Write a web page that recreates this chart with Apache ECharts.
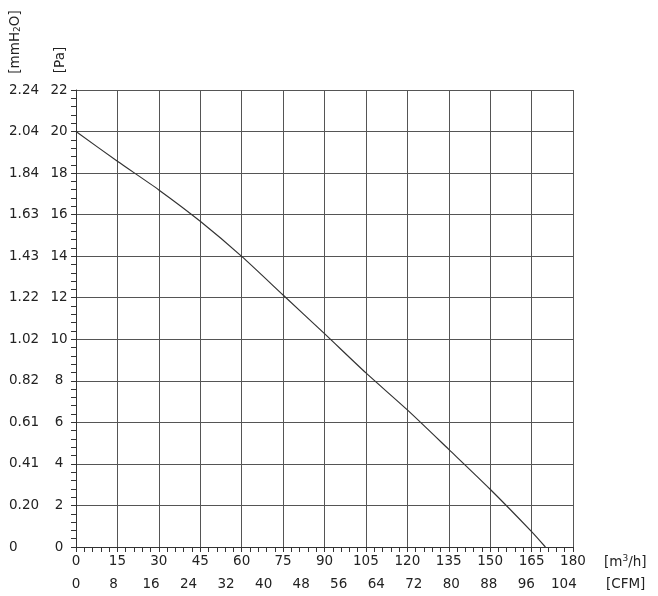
<!DOCTYPE html>
<html><head><meta charset="utf-8">
<script src="https://cdn.jsdelivr.net/npm/echarts@6/dist/echarts.min.js"></script>
<style>html,body{margin:0;padding:0;background:#fff}#c{width:658px;height:596px}</style>
</head><body><div id="c"></div>
<script>
var flowM3h = [0, 15, 30, 45, 60, 75, 90, 105, 120, 135, 150, 165, 170];
var pressurePa = [20, 18.57, 17.19, 15.68, 13.99, 12.13, 10.27, 8.38, 6.6, 4.7, 2.78, 0.74, 0];
var xTicksM3h = ['0','15','30','45','60','75','90','105','120','135','150','165','180'];
var xTicksCFM = ['0','8','16','24','32','40','48','56','64','72','80','88','96','104'];
var yTicksPa = ['0','2','4','6','8','10','12','14','16','18','20','22'];
var yTicksMmH2O = ['0','0.20','0.41','0.61','0.82','1.02','1.22','1.43','1.63','1.84','2.04','2.24'];
var M3H_PER_CFM = 1.69901;
var X_MAX = 180;

var FONT = 'DejaVu Sans';
var TXT = '#222';
var chart = echarts.init(document.getElementById('c'), null, {renderer:'canvas'});
var lbl = {fontFamily: FONT, fontSize: 13.5, color: TXT};
function idx(v, step){ return Math.round(v/step); }
chart.setOption({
  animation: false,
  grid: {left: 76, right: 85, top: 90, bottom: 49, containLabel: false},
  xAxis: [{
    type: 'value', min: 0, max: X_MAX, interval: 15, position: 'bottom',
    axisLine: {show: true, lineStyle: {color: '#333', width: 1}},
    axisTick: {show: true, length: 5, lineStyle: {color: '#333'}},
    minorTick: {show: true, splitNumber: 5, length: 5, lineStyle: {color: '#333'}},
    splitLine: {show: true, lineStyle: {color: '#555', width: 1}},
    axisLabel: Object.assign({margin: 7, formatter: function(v){ return xTicksM3h[idx(v,15)]; }}, lbl)
  },{
    type: 'value', min: 0, max: X_MAX / M3H_PER_CFM, interval: 8, position: 'bottom', offset: 23,
    axisLine: {show: false}, axisTick: {show: false}, splitLine: {show: false},
    axisLabel: Object.assign({margin: 7, showMaxLabel: false, formatter: function(v){
      if (Math.abs(v/8 - Math.round(v/8)) > 1e-6) return '';
      return xTicksCFM[idx(v,8)] || ''; }}, lbl)
  }],
  yAxis: [{
    type: 'value', min: 0, max: 22, interval: 2, position: 'left',
    axisLine: {show: true, lineStyle: {color: '#333', width: 1}},
    axisTick: {show: true, length: 5, lineStyle: {color: '#333'}},
    minorTick: {show: true, splitNumber: 5, length: 5, lineStyle: {color: '#333'}},
    splitLine: {show: true, lineStyle: {color: '#555', width: 1}},
    axisLabel: Object.assign({margin: 17, align: 'center', formatter: function(v){ return yTicksPa[idx(v,2)]; }}, lbl)
  },{
    type: 'value', min: 0, max: 22, interval: 2, position: 'left',
    axisLine: {show: false}, axisTick: {show: false}, splitLine: {show: false},
    axisLabel: Object.assign({margin: 67, align: 'left', formatter: function(v){ return yTicksMmH2O[idx(v,2)]; }}, lbl)
  }],
  graphic: [
    {type: 'text', x: 15, y: 42, rotation: Math.PI/2, style: {text: '[mmH{sub|2}O]', fill: TXT, font: '13.5px "DejaVu Sans"', align: 'center', verticalAlign: 'middle',
      rich: {sub: {fontSize: 9, fontFamily: FONT, fill: TXT, verticalAlign: 'bottom', padding: [6,0,0,0]}}}},
    {type: 'text', x: 60, y: 60, rotation: Math.PI/2, style: {text: '[Pa]', fill: TXT, font: '13.5px "DejaVu Sans"', align: 'center', verticalAlign: 'middle'}},
    {type: 'text', x: 604, y: 562, style: {text: '[m{sup|3}/h]', fill: TXT, font: '13.5px "DejaVu Sans"', align: 'left', verticalAlign: 'middle',
      rich: {sup: {fontSize: 9, fontFamily: FONT, fill: TXT, verticalAlign: 'top', padding: [0,0,7,0]}}}},
    {type: 'text', x: 606, y: 584, style: {text: '[CFM]', fill: TXT, font: '13.5px "DejaVu Sans"', align: 'left', verticalAlign: 'middle'}}
  ],
  series: [{
    type: 'line', xAxisIndex: 0, yAxisIndex: 0,
    data: flowM3h.map(function(x,i){ return [x, pressurePa[i]]; }),
    symbol: 'none', smooth: 0.25,
    lineStyle: {color: '#333', width: 1.2}
  }]
});
</script></body></html>
